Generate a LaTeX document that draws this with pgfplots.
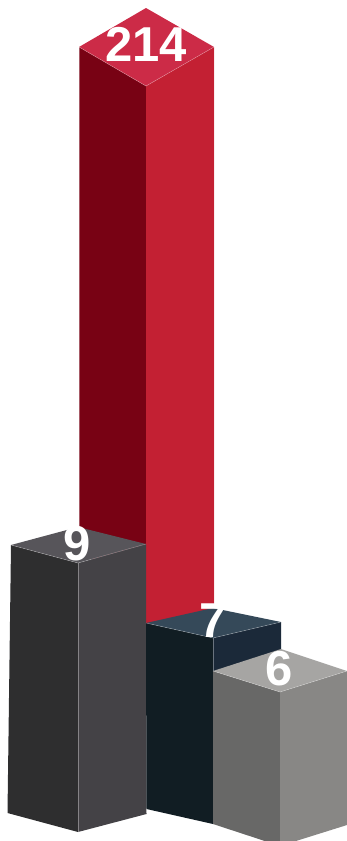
\documentclass[border=0pt]{standalone}
\usepackage{pgfplots}
\pgfplotsset{compat=1.18}
\usepackage{fontspec}
\setmainfont{Liberation Sans}

% Face colours of the four isometric columns
\definecolor{redTop}{HTML}{CC2B47}
\definecolor{redLeft}{HTML}{780214}
\definecolor{redRight}{HTML}{C32033}
\definecolor{darkTop}{HTML}{57555A}
\definecolor{darkLeft}{HTML}{2E2E2F}
\definecolor{darkRight}{HTML}{444246}
\definecolor{navyTop}{HTML}{354959}
\definecolor{navyLeft}{HTML}{111D23}
\definecolor{navyRight}{HTML}{1B2939}
\definecolor{greyTop}{HTML}{A6A5A3}
\definecolor{greyLeft}{HTML}{686867}
\definecolor{greyRight}{HTML}{888785}

\tikzset{
  colface/.style={fill=#1, draw=none},
  coledge/.style={draw=white, draw opacity=0.35, line width=0.5pt},
  vallabel/.style={font=\fontsize{49}{49}\selectfont\bfseries, text=white, inner sep=0pt, anchor=center},
}

\begin{document}
\begin{tikzpicture}
\useasboundingbox (0,0) rectangle (347pt,841pt);
\begin{axis}[
  at={(0,0)}, anchor=south west,
  hide axis,
  scale only axis,
  width=347pt, height=841pt,
  xmin=0, xmax=347, ymin=0, ymax=841,
  y dir=reverse,
  clip=true,
]
% Column worth 214
\addplot[colface=redLeft]  coordinates {(79,47) (146,86) (146,625) (79,545)} --cycle;
\addplot[colface=redRight] coordinates {(146,86) (214,47) (214,615) (146,625)} --cycle;
\addplot[colface=redTop]   coordinates {(146,8) (214,47) (146,86) (79,47)} --cycle;
\addplot[coledge] coordinates {(79,47) (146,86) (214,47)};
\addplot[coledge] coordinates {(79,47) (79,545)};
\addplot[coledge] coordinates {(214,47) (214,615)};

% Column worth 9
\addplot[colface=darkLeft]  coordinates {(11,545) (78,563) (78,832) (7.5,813)} --cycle;
\addplot[colface=darkRight] coordinates {(78,563) (146,544) (146.5,814) (78,832)} --cycle;
\addplot[colface=darkTop]   coordinates {(78,527) (146,544) (78,563) (11,545)} --cycle;
\addplot[coledge] coordinates {(11,545) (78,563) (146,544)};
\addplot[coledge] coordinates {(78,563) (78,832)};

% Column worth 7
\addplot[colface=navyLeft]  coordinates {(146,623) (213,638) (213,824) (146.5,809)} --cycle;
\addplot[colface=navyRight] coordinates {(213,638) (281,622) (281,650) (213,672)} --cycle;
\addplot[colface=navyTop]   coordinates {(213,608) (281,622) (213,638) (146,623)} --cycle;
\addplot[coledge] coordinates {(146,623) (213,638) (281,622)};
\addplot[coledge] coordinates {(213,638) (213,824)};

% Column worth 6, running past the lower edge
\addplot[colface=greyLeft]  coordinates {(213,671) (280,692) (280,846) (213,824)} --cycle;
\addplot[colface=greyRight] coordinates {(280,692) (347,671) (347,825) (280,846)} --cycle;
\addplot[colface=greyTop]   coordinates {(281,649) (347,671) (280,692) (213,671)} --cycle;
\addplot[coledge] coordinates {(213,671) (280,692) (347,671)};

% Value labels
\node[vallabel] at (axis cs:146,44.5) {214};
\node[vallabel] at (axis cs:77,544) {9};
\node[vallabel] at (axis cs:213,620.5) {7};
\node[vallabel] at (axis cs:279,669) {6};
\end{axis}
\end{tikzpicture}
\end{document}
